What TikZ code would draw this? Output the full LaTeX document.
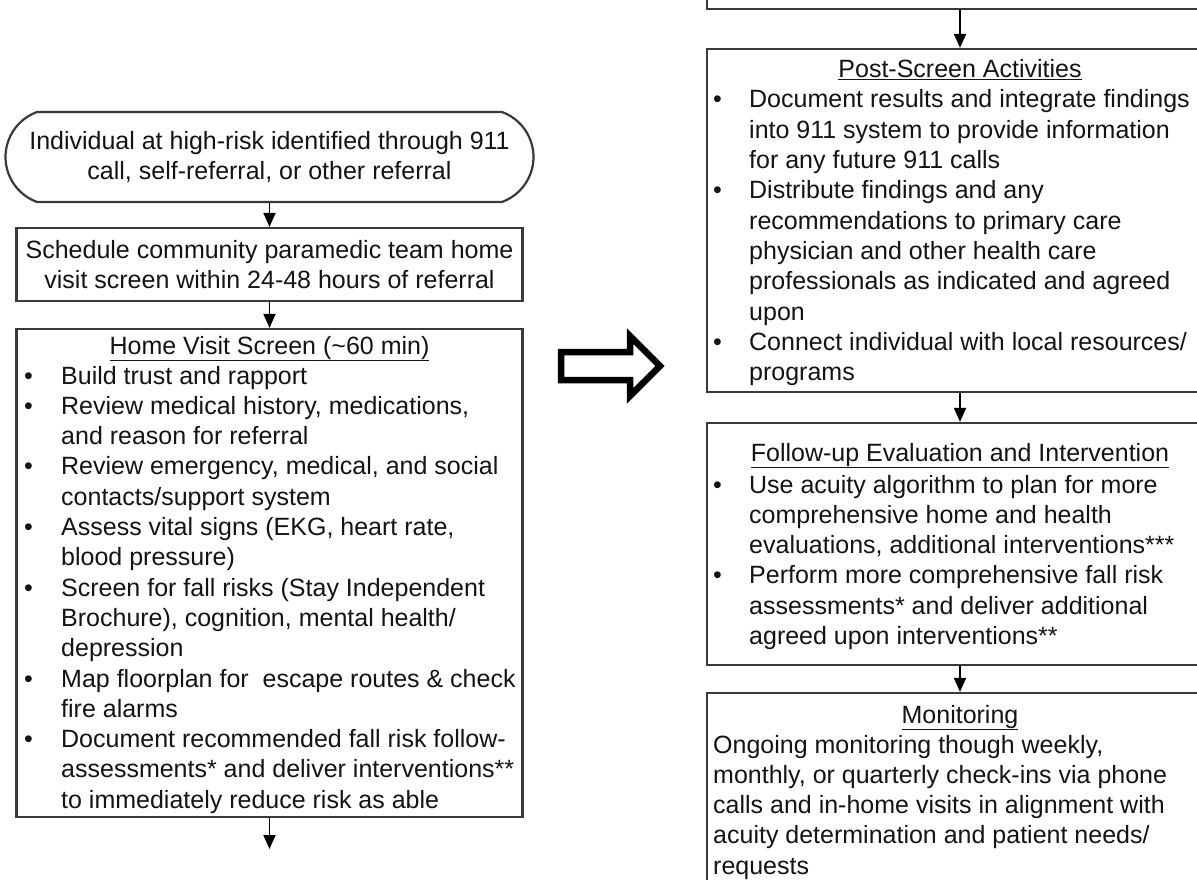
\documentclass[tikz,border=0pt]{standalone}
\usepackage{fontspec}
\setmainfont{Liberation Sans}
\usetikzlibrary{arrows.meta,shapes.misc}
\definecolor{boxc}{HTML}{3A3A3A}
\definecolor{txtc}{HTML}{141414}
\newcommand\mainfs{\fontsize{25}{30.3}\selectfont}
\newcommand\bul{\hspace*{-1pt}\textbullet}
\tikzset{
  box/.style={draw=boxc, line width=2.2pt, rectangle, inner sep=0pt, minimum width=506pt},
  term/.style={draw=boxc, line width=2.2pt, rounded rectangle, rounded rectangle arc length=140,
               inner sep=0pt, align=center, font=\mainfs, text=txtc},
  conn/.style={draw=black, line width=1.8pt, -{Triangle[length=14pt,width=12pt]}},
  txt/.style={inner sep=0pt, anchor=base west, font=\mainfs, text=txtc},
  ttl/.style={inner sep=0pt, anchor=base, font=\mainfs, text=txtc},
  hollow/.style={draw=black, line width=6.5pt, fill=white, miter limit=10},
}
\begin{document}
\begin{tikzpicture}[x=1pt,y=-1pt]
\useasboundingbox (0,0) rectangle (1197,880);
\clip (0,0) rectangle (1197,880);
\fill[white] (0,0) rectangle (1197,880);

% ---------- left column ----------
\node[term, minimum width=528pt, minimum height=90pt] (term) at (269.5,157)
  {Individual at high-risk identified through 911\\call, self-referral, or other referral};
\node[box, minimum height=73pt, align=center, font=\mainfs, text=txtc] (sched) at (269.5,264.5)
  {Schedule community paramedic team home\\visit screen within 24-48 hours of referral};
\node[box, minimum height=488pt] (home) at (269.5,573) {};
\node[ttl] (hometitle) at (269.5,354) {\underline{Home Visit Screen (\textasciitilde60 min)}};
\node[txt] (homelist) at (25,384) {\begin{tabular}[t]{@{}p{36pt}@{}l@{}}
\bul & Build trust and rapport\\
\bul & Review medical history, medications,\\
 & and reason for referral\\
\bul & Review emergency, medical, and social\\
 & contacts/support system\\
\bul & Assess vital signs (EKG, heart rate,\\
 & blood pressure)\\
\bul & Screen for fall risks (Stay Independent\\
 & Brochure), cognition, mental health/\\
 & depression\\
\bul & Map floorplan for\ \ escape routes \& check\\
 & fire alarms\\
\bul & Document recommended fall risk follow-\\
 & assessments* and deliver interventions**\\
 & to immediately reduce risk as able
\end{tabular}};
\coordinate (homeout) at (269.5,849);

\draw[conn] (term.south) -- (sched.north);
\draw[conn] (sched.south) -- (home.north);
\draw[conn] (home.south) -- (homeout);

% ---------- big hollow arrow ----------
\draw[hollow] (561,352) -- (630,352) -- (630,336) -- (660,366) -- (630,396) -- (630,380) -- (561,380) -- cycle;

% ---------- right column ----------
\node[box, minimum height=80pt] (prev) at (960,-31) {};
\node[box, minimum height=343pt] (post) at (960,220.5) {};
\node[ttl] (posttitle) at (960,78) {\underline{Post-Screen Activities}};
\node[txt] (postlist) at (714,108) {\begin{tabular}[t]{@{}p{35pt}@{}l@{}}
\bul & Document results and integrate findings\\
 & into 911 system to provide information\\
 & for any future 911 calls\\
\bul & Distribute findings and any\\
 & recommendations to primary care\\
 & physician and other health care\\
 & professionals as indicated and agreed\\
 & upon\\
\bul & Connect individual with local resources/\\
 & programs
\end{tabular}};

\node[box, minimum height=242pt] (follow) at (960,544) {};
\node[ttl] (followtitle) at (960,461) {\underline{Follow-up Evaluation and Intervention}};
\node[txt] (followlist) at (714,493) {\begin{tabular}[t]{@{}p{35pt}@{}l@{}}
\bul & Use acuity algorithm to plan for more\\
 & comprehensive home and health\\
 & evaluations, additional interventions***\\
\bul & Perform more comprehensive fall risk\\
 & assessments* and deliver additional\\
 & agreed upon interventions**
\end{tabular}};

\node[box, minimum height=240pt] (monit) at (960,813) {};
\node[ttl] (monittitle) at (960,723) {\underline{Monitoring}};
\node[txt] (monittext) at (713,753) {\begin{tabular}[t]{@{}l@{}}
Ongoing monitoring though weekly,\\
monthly, or quarterly check-ins via phone\\
calls and in-home visits in alignment with\\
acuity determination and patient needs/\\
requests
\end{tabular}};

\draw[conn] (prev.south) -- (post.north);
\draw[conn] (post.south) -- (follow.north);
\draw[conn] (follow.south) -- (monit.north);
\end{tikzpicture}
\end{document}
